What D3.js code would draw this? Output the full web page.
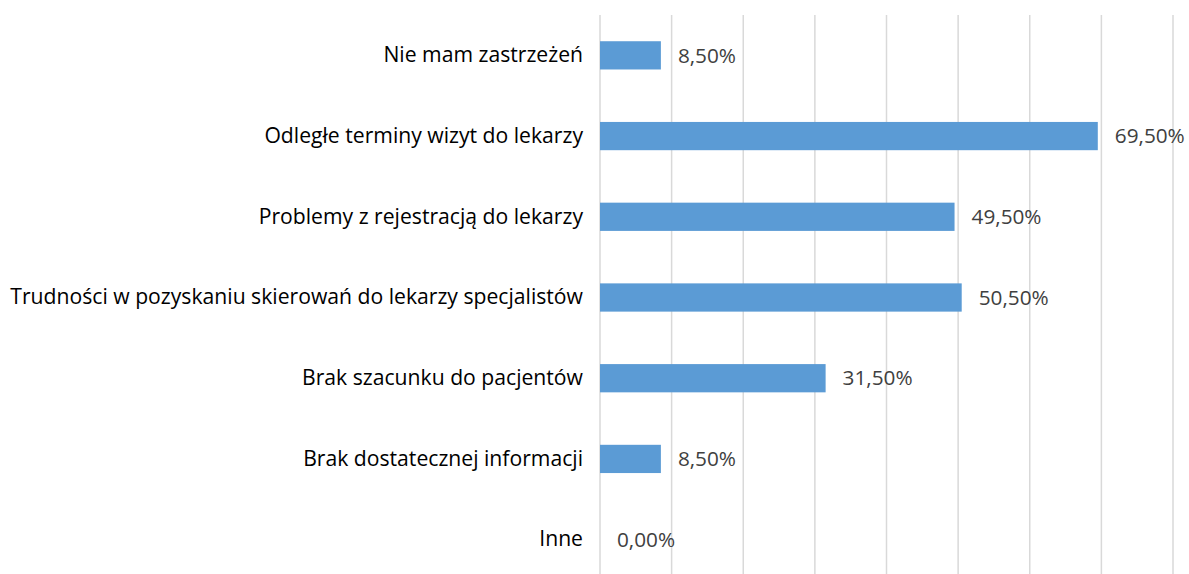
<!DOCTYPE html>
<html>
<head>
<meta charset="utf-8">
<script src="https://cdn.jsdelivr.net/npm/d3@7"></script>
<style>
  body { margin: 0; background: #fff; }
  svg text { font-family: "Open Sans", Lato, sans-serif; }
</style>
</head>
<body>
<svg id="chart"></svg>
<script>
const categories = [
  "Nie mam zastrzeżeń",
  "Odległe terminy wizyt do lekarzy",
  "Problemy z rejestracją do lekarzy",
  "Trudności w pozyskaniu skierowań do lekarzy specjalistów",
  "Brak szacunku do pacjentów",
  "Brak dostatecznej informacji",
  "Inne"
];
const values = [8.5, 69.5, 49.5, 50.5, 31.5, 8.5, 0.0];
const gridTicks = [0, 10, 20, 30, 40, 50, 60, 70, 80];

const width = 1189, height = 574;
const margin = { top: 15, right: 16, bottom: -6, left: 600 };

const svg = d3.select("#chart").attr("width", width).attr("height", height);

// pick font sizes so the text widths match the original (Calibri-like)
function fitSize(str, target) {
  const t = svg.append("text").style("font-size", "20px").text(str);
  const w = t.node().getComputedTextLength();
  t.remove();
  return 20 * target / w;
}
const catSize = fitSize(categories[3], 573);
const valSize = fitSize("69,50%", 70);

const x = d3.scaleLinear()
  .domain([0, 80])
  .range([margin.left, width - margin.right]);

const y = d3.scaleBand()
  .domain(categories)
  .range([margin.top, height - margin.bottom])
  .paddingInner(0.65)
  .paddingOuter(0.325);

// gridlines
svg.append("g")
  .selectAll("line")
  .data(gridTicks)
  .join("line")
  .attr("x1", d => x(d))
  .attr("x2", d => x(d))
  .attr("y1", margin.top)
  .attr("y2", height - margin.bottom)
  .attr("stroke", "#d9d9d9")
  .attr("stroke-width", 1.5);

// bars
svg.append("g")
  .selectAll("rect")
  .data(values)
  .join("rect")
  .attr("x", x(0))
  .attr("y", (d, i) => y(categories[i]))
  .attr("width", d => x(d) - x(0))
  .attr("height", y.bandwidth())
  .attr("fill", "#5b9bd5");

// value labels
svg.append("g")
  .selectAll("text")
  .data(values)
  .join("text")
  .attr("x", d => x(d) + 17)
  .attr("y", (d, i) => y(categories[i]) + y.bandwidth() / 2)
  .attr("dy", "0.35em")
  .style("font-size", valSize + "px")
  .attr("fill", "#404040")
  .text(d => d.toFixed(2).replace(".", ",") + "%");

// category axis
const axis = svg.append("g")
  .attr("transform", `translate(${margin.left},0)`)
  .call(d3.axisLeft(y).tickSize(0).tickPadding(17));
axis.select(".domain").remove();
axis.selectAll("text")
  .style("font-size", catSize + "px")
  .attr("fill", "#000")
  .style("font-family", "'Open Sans', Lato, sans-serif");
</script>
</body>
</html>
